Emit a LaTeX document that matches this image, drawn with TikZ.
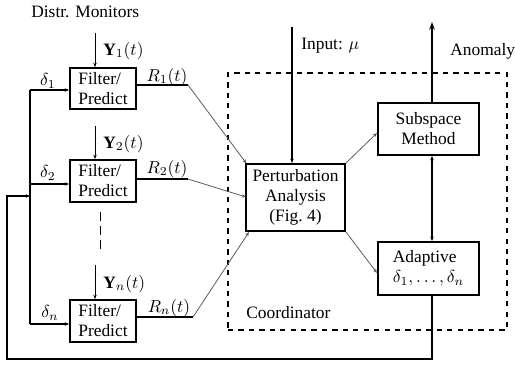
\documentclass[tikz,border=0pt]{standalone}
\usepackage{fontspec}
\setmainfont{Liberation Serif}
\usetikzlibrary{arrows.meta}
\newlength\pxu
\setlength\pxu{0.575pt}
\begin{document}
\begin{tikzpicture}[x=0.575pt,y={(0pt,-0.575pt)},
  font=\fontsize{10}{11.5}\selectfont,
  box/.style={draw,line width=1.1pt,inner sep=1pt},
  thickl/.style={line width=1.1pt},
  thinl/.style={line width=0.5pt},
  grayl/.style={line width=0.45pt,draw=black!65},
  tip/.style={-{Stealth[length=4.5pt,width=3.2pt]}},
  smtip/.style={-{Stealth[length=2.5pt,width=2pt]}},
  lbl/.style={inner sep=0pt}]
\useasboundingbox (0,0) rectangle (515,367);

% boxes
\node[box,minimum width=66\pxu,minimum height=41\pxu,align=left] (f1) at (103,88.5) {Filter/\\Predict};
\node[box,minimum width=66\pxu,minimum height=42\pxu,align=left] (f2) at (103,181) {Filter/\\Predict};
\node[box,minimum width=66\pxu,minimum height=42\pxu,align=left] (fn) at (103,321) {Filter/\\Predict};
\node[box,minimum width=99\pxu,minimum height=67\pxu,align=center] (pa) at (295.5,197.5) {Perturbation\\Analysis\\(Fig.~4)};
\node[box,minimum width=101\pxu,minimum height=52\pxu,align=center] (sub) at (428.5,129) {Subspace\\Method};
\node[box,minimum width=101\pxu,minimum height=53\pxu,align=left] (ad) at (428.5,268.5) {Adaptive\\$\delta_1,\ldots,\delta_n$};

% coordinator
\node[draw,dashed,line width=0.9pt,minimum width=279\pxu,minimum height=257\pxu,inner sep=0pt] (co) at (367.5,201.5) {};
\node[lbl,anchor=west] (colbl) at (246,313) {Coordinator};

% labels
\node[lbl,anchor=west] (title) at (31,12) {Distr. Monitors};
\node[lbl,anchor=west] (ly1) at (103,51) {$\mathbf{Y}_1(t)$};
\node[lbl,anchor=west] (ly2) at (103,144) {$\mathbf{Y}_2(t)$};
\node[lbl,anchor=west] (lyn) at (103,284) {$\mathbf{Y}_n(t)$};
\node[lbl] (ld1) at (48,81) {$\delta_1$};
\node[lbl] (ld2) at (48,173) {$\delta_2$};
\node[lbl] (ldn) at (50,313) {$\delta_n$};
\node[lbl] (lr1) at (167,77) {$R_1(t)$};
\node[lbl] (lr2) at (167,169) {$R_2(t)$};
\node[lbl] (lrn) at (169,308) {$R_n(t)$};
\node[lbl,anchor=west] (lin) at (301,46) {Input: $\mu$};
\node[lbl,anchor=west] (lan) at (450,51) {Anomaly};

% coordinates
\coordinate (y1) at (95,33);
\coordinate (y2) at (95,126);
\coordinate (yn) at (95,265);
\coordinate (dt) at (100,212);
\coordinate (db) at (100,249);
\coordinate (d1) at (30,90);
\coordinate (d2) at (30,184);
\coordinate (dn) at (30,324);
\coordinate (fbl) at (7,359);
\coordinate (fb) at (30,196);
\coordinate (r1) at (188,85);
\coordinate (r2) at (188,179);
\coordinate (rn) at (193,317);
\coordinate (inp) at (292,27);
\coordinate (an) at (432,22);
\coordinate (vx) at (432,0);
\coordinate (pat) at (246.5,163.5);
\coordinate (pal) at (246,197);
\coordinate (pab) at (249,232);
\coordinate (sa) at (377,133);
\coordinate (aa) at (377,273);

% Y inputs
\draw[thinl,smtip] (y1) -- (y1 |- f1.north);
\draw[thinl,smtip] (y2) -- (y2 |- f2.north);
\draw[thinl,smtip] (yn) -- (yn |- fn.north);
\draw[thinl,dashed,dash pattern=on 5pt off 3pt] (dt) -- (db);

% delta bus
\draw[thickl] (d1) -- (dn);
\draw[thickl,smtip] (d1) -- (d1 -| f1.west);
\draw[thickl,smtip] (d2) -- (d2 -| f2.west);
\draw[thickl,smtip] (dn) -- (dn -| fn.west);

% R outputs
\draw[thickl] (r1 -| f1.east) -- (r1);
\draw[thickl] (r2 -| f2.east) -- (r2);
\draw[thickl] (rn -| fn.east) -- (rn);
\draw[grayl,smtip] (r1) -- (pat);
\draw[grayl,smtip] (r2) -- (pal);
\draw[grayl,smtip] (rn) -- (pab);

% input
\draw[thickl,smtip] (inp) -- (inp |- pa.north);

% PA to subspace / adaptive
\draw[grayl,smtip] (pa.north east) -- (sa);
\draw[grayl,smtip] (pa.south east) -- (aa);

% subspace <-> adaptive
\draw[thickl,{Stealth[length=2.5pt,width=2pt]}-{Stealth[length=2.5pt,width=2pt]}] (vx |- sub.south) -- (vx |- ad.north);

% anomaly
\draw[thickl,tip] (vx |- sub.north) -- (an);

% feedback
\draw[thickl,smtip] (vx |- ad.south) |- (fbl) |- (fb);
\end{tikzpicture}
\end{document}
